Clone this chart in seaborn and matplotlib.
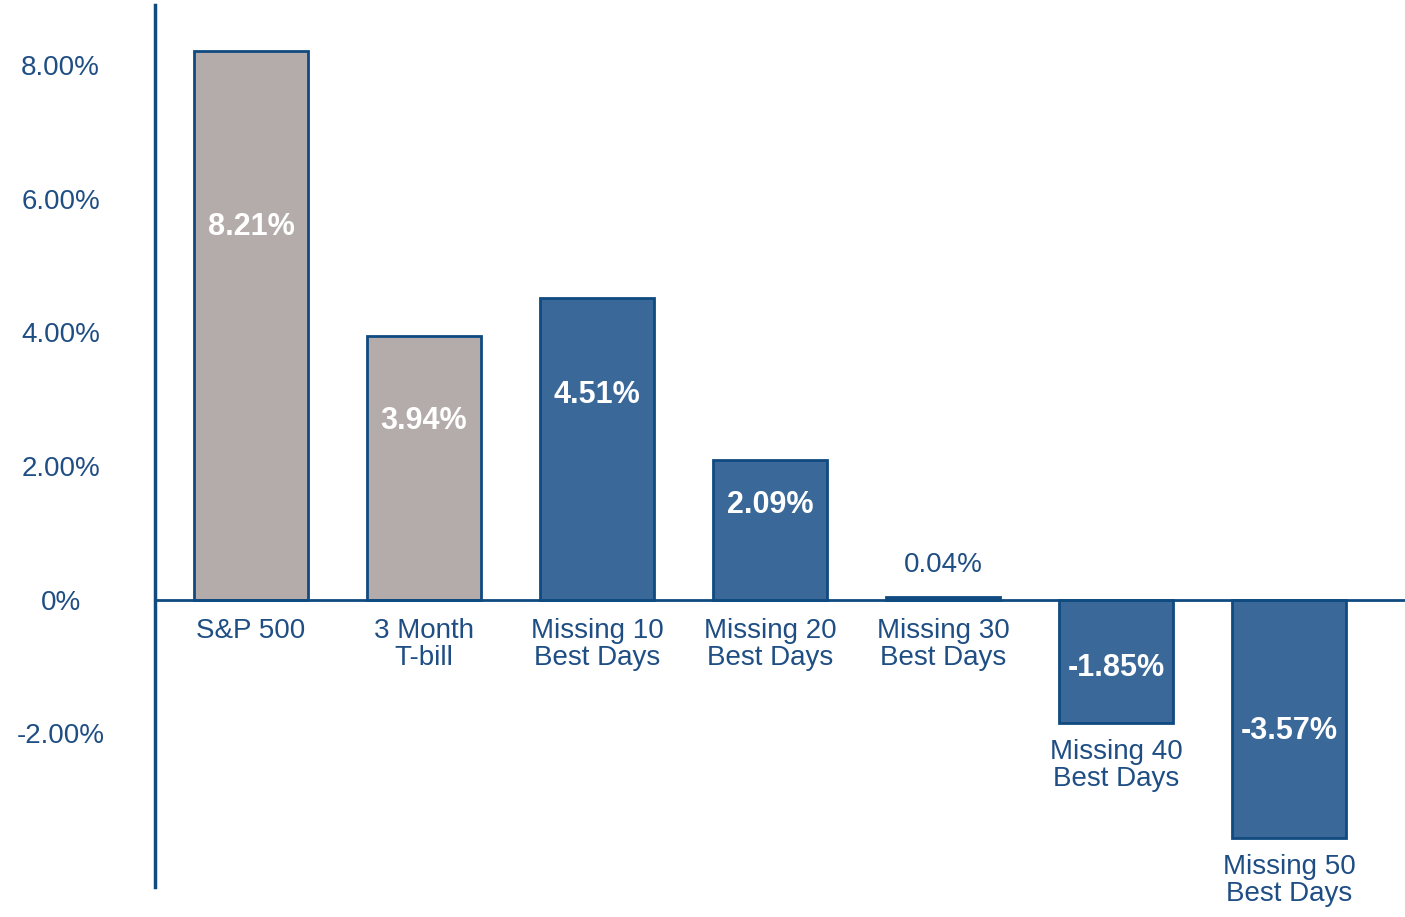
import matplotlib
matplotlib.use("Agg")
import matplotlib.pyplot as plt
import pandas as pd
import seaborn as sns

# data
categories = ["S&P 500", "3 Month\nT-bill", "Missing 10\nBest Days", "Missing 20\nBest Days",
              "Missing 30\nBest Days", "Missing 40\nBest Days", "Missing 50\nBest Days"]
returns = [8.21, 3.94, 4.51, 2.09, 0.04, -1.85, -3.57]
value_labels = ["8.21%", "3.94%", "4.51%", "2.09%", "0.04%", "-1.85%", "-3.57%"]
tick_values = [-2, 0, 2, 4, 6, 8]
tick_labels = ["-2.00%", "0%", "2.00%", "4.00%", "6.00%", "8.00%"]

GREY = "#b4acaa"
BLUE = "#3a6898"
EDGE = "#0f4a80"
TEXT = "#1f4e84"
bar_colors = [GREY, GREY, BLUE, BLUE, BLUE, BLUE, BLUE]

sns.set_style("white")
plt.rcParams["font.family"] = ["Liberation Sans", "DejaVu Sans"]

df = pd.DataFrame({"category": categories, "return": returns})

fig = plt.figure(figsize=(14.05, 9.17), dpi=100)
ax = fig.add_axes([0.1103, 0.0327, 0.8897, 0.9618])

sns.barplot(data=df, x="category", y="return", hue="category", palette=bar_colors,
            legend=False, width=0.66, edgecolor=EDGE, linewidth=2, saturation=1, ax=ax)

ax.set_xlim(-0.555, 6.67)
ax.set_ylim(-4.3, 8.9)
ax.axhline(0, color=EDGE, lw=2, zorder=3)

for side in ["top", "right", "bottom"]:
    ax.spines[side].set_visible(False)
ax.spines["left"].set_color(EDGE)
ax.spines["left"].set_linewidth(2.5)

ax.set_xticks([])
ax.set_xlabel("")
ax.set_ylabel("")
ax.set_yticks(tick_values)
ax.set_yticklabels(tick_labels)
ax.tick_params(axis="y", length=16, width=2.5, color=EDGE, pad=52,
               labelsize=20, labelcolor=TEXT)
for lab in ax.get_yticklabels():
    lab.set_ha("center")
ax.yaxis.get_major_ticks()[1].tick1line.set_visible(False)

for i, (v, txt, cat) in enumerate(zip(returns, value_labels, categories)):
    if abs(v) < 0.5:
        ax.annotate(txt, xy=(i, v), xytext=(0, 14), textcoords="offset points",
                    ha="center", va="bottom", fontsize=20, color=TEXT)
    else:
        frac = 0.68 if v > 0 else 0.55
        ax.text(i, v * frac, txt, ha="center", va="center", fontsize=22,
                fontweight="bold", color="white")
    offset = -13 if v > 0 else -11
    ax.annotate(cat, xy=(i, min(v, 0)), xytext=(0, offset), textcoords="offset points",
                ha="center", va="top", fontsize=20, color=TEXT, linespacing=1.05,
                annotation_clip=False)

fig.savefig("out.png", dpi=100, facecolor="white")
